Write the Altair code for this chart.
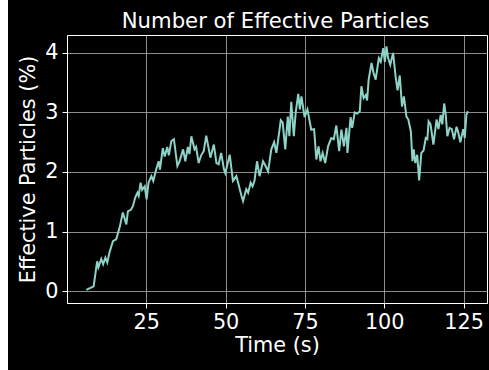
import altair as alt
import pandas as pd

times = [6.1, 8.4, 9.5, 9.9, 10.8, 11.4, 12.1, 12.7, 13.4, 14.5, 15.5, 16.6, 17.6, 18.7, 19.2, 20.2, 20.8, 21.5,
         22.2, 22.6, 23.2, 23.7, 24.5, 25.1, 25.7, 26.6, 27.2, 28.1, 28.9, 29.3, 29.7, 30.2, 30.8, 31.6, 32.1, 32.9,
         33.7, 34.8, 35.5, 36.6, 37.3, 38.1, 38.6, 39.2, 40.2, 40.7, 41.5, 42.3, 43.1, 43.9, 45.2, 46.3, 47.1, 47.8,
         48.6, 49.5, 49.9, 51.3, 52.3, 53.4, 54.1, 55.0, 55.5, 56.5, 57.1, 57.9, 58.5, 59.1, 59.9, 60.7, 61.8, 62.6,
         63.4, 64.4, 65.3, 66.0, 67.4, 68.0, 68.8, 69.6, 70.1, 70.7, 71.5, 72.1, 72.9, 73.4, 73.9, 74.9, 75.8, 77.0,
         77.9, 78.6, 79.3, 79.9, 80.6, 81.4, 82.3, 83.3, 84.1, 84.9, 85.8, 86.5, 87.3, 88.1, 88.4, 89.4, 89.9, 90.7,
         91.5, 92.3, 92.8, 93.5, 94.2, 94.6, 95.1, 96.0, 96.6, 97.3, 98.3, 98.9, 99.7, 100.2, 100.7, 101.2, 101.9,
         102.8, 103.6, 104.2, 104.9, 105.6, 106.2, 107.0, 107.6, 108.4, 108.9, 109.3, 109.8, 110.4, 111.0, 111.7,
         112.4, 113.1, 113.6, 114.0, 114.6, 115.5, 116.5, 117.1, 117.8, 118.3, 118.9, 119.4, 119.9, 120.6, 121.3,
         122.0, 122.8, 123.4, 124.0, 124.9, 125.4, 125.9, 126.4]

values = [0.02, 0.08, 0.50, 0.40, 0.54, 0.45, 0.56, 0.48, 0.65, 0.84, 0.87, 1.07, 1.32, 1.12, 1.34, 1.37, 1.43, 1.57,
          1.65, 1.60, 1.82, 1.70, 1.76, 1.54, 1.82, 1.93, 1.85, 2.04, 2.18, 2.04, 2.20, 2.40, 2.26, 2.42, 2.28, 2.52,
          2.55, 2.10, 2.18, 2.38, 2.18, 2.42, 2.30, 2.60, 2.38, 2.42, 2.15, 2.28, 2.35, 2.61, 2.24, 2.46, 2.15, 2.13,
          2.32, 2.04, 1.98, 2.29, 1.85, 1.93, 1.79, 1.60, 1.51, 1.71, 1.65, 1.82, 1.76, 1.85, 2.18, 1.93, 2.18, 2.10,
          2.01, 2.38, 2.50, 2.32, 2.87, 2.83, 2.38, 2.93, 2.60, 3.18, 2.60, 3.00, 3.31, 3.05, 3.27, 2.92, 3.05, 2.71,
          2.72, 2.21, 2.43, 2.18, 2.32, 2.15, 2.43, 2.57, 2.55, 2.78, 2.35, 2.71, 2.43, 2.74, 2.32, 2.92, 2.74, 3.00,
          2.98, 3.02, 3.44, 3.24, 3.29, 3.20, 3.55, 3.83, 3.67, 3.55, 3.91, 3.85, 4.08, 3.85, 4.11, 3.92, 3.80,
          4.00, 3.60, 3.37, 3.62, 3.10, 3.27, 2.93, 2.88, 2.68, 2.18, 2.38, 2.15, 2.29, 1.86, 2.32,
          2.36, 2.57, 2.55, 2.85, 2.80, 2.46, 2.88, 2.72, 2.96, 2.80, 3.15, 2.96, 2.60, 2.74, 2.72,
          2.55, 2.76, 2.65, 2.50, 2.72, 2.57, 2.96, 3.02]

x_ticks = [25, 50, 75, 100, 125]
y_ticks = [0, 1, 2, 3, 4]
title_text = "Number of Effective Particles"

df = pd.DataFrame({"t": times, "v": values})

FONT = "DejaVu Sans"
FS = 20.8

line = alt.Chart(df).mark_line(color="#8dd3c7", strokeWidth=2).encode(
    x=alt.X("t:Q", scale=alt.Scale(domain=[0.0, 132.4], nice=False, zero=False),
            axis=alt.Axis(title="Time (s)", values=x_ticks, format="d")),
    y=alt.Y("v:Q", scale=alt.Scale(domain=[-0.2, 4.3], nice=False, zero=False),
            axis=alt.Axis(title="Effective Particles (%)", values=y_ticks, format="d")),
)

one = pd.DataFrame({"a": [0]})

strip = alt.Chart(one).mark_rect(color="white").encode(
    x=alt.value(-67), x2=alt.value(-59), y=alt.value(-35), y2=alt.value(335)
)

title = alt.Chart(one).mark_text(
    font=FONT, fontSize=21.2, color="white", align="center", baseline="alphabetic"
).encode(x=alt.value(208.5), y=alt.value(-7), text=alt.value(title_text))

chart = alt.layer(strip, line, title).properties(
    width=420, height=268,
    padding={"left": 67, "top": 35, "right": 2, "bottom": 67},
    autosize=alt.AutoSizeParams(type="none"),
    background="black",
).configure_axis(
    labelFont=FONT, labelFontSize=FS, labelColor="white",
    titleFont=FONT, titleFontSize=FS, titleColor="white", titleFontWeight="normal",
    domainColor="white", domainWidth=1, tickColor="white", tickSize=5, tickWidth=1,
    gridColor="#b0b0b0", gridWidth=0.8, labelPadding=4,
).configure_axisX(titlePadding=4).configure_axisY(titlePadding=6).configure_view(
    stroke="white", strokeWidth=1
)

chart.save("out.html", embed_options={"renderer": "svg", "actions": False})
